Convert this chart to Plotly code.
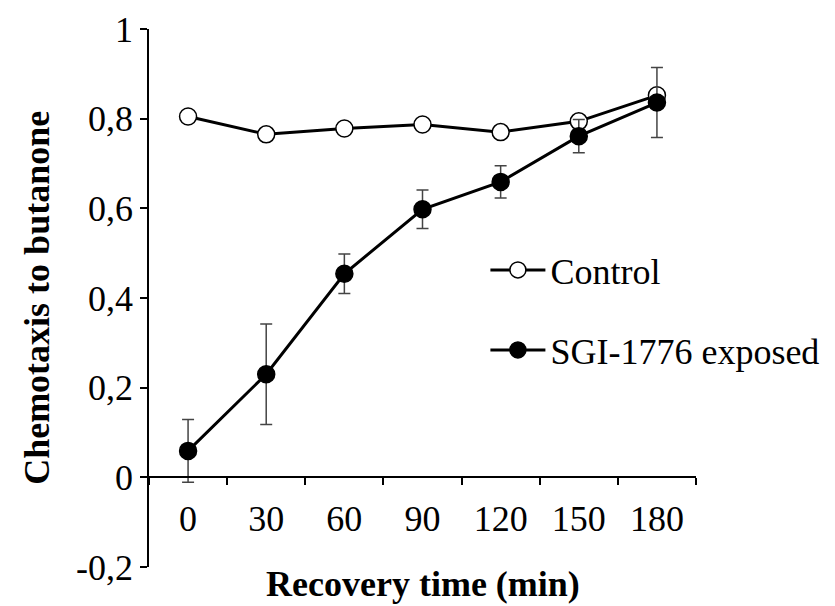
import plotly.graph_objects as go

times = ["0", "30", "60", "90", "120", "150", "180"]
control = [0.805, 0.765, 0.778, 0.787, 0.770, 0.794, 0.852]
sgi = [0.059, 0.230, 0.454, 0.598, 0.659, 0.761, 0.836]
sgi_err = [0.070, 0.112, 0.044, 0.043, 0.036, 0.037, 0.078]
ytickvals = [-0.2, 0, 0.2, 0.4, 0.6, 0.8, 1.0]
yticktext = ["-0,2", "0", "0,2", "0,4", "0,6", "0,8", "1"]

FONT = "Liberation Serif, Times New Roman, serif"
FS = 36

fig = go.Figure()
fig.add_trace(go.Scatter(
    x=times, y=control, name="Control", mode="lines+markers",
    line=dict(color="black", width=3),
    marker=dict(symbol="circle", size=17, color="white", line=dict(color="black", width=1.5)),
    legend="legend"))
fig.add_trace(go.Scatter(
    x=times, y=sgi, name="SGI-1776 exposed", mode="lines+markers",
    line=dict(color="black", width=3),
    marker=dict(symbol="circle", size=17, color="black", line=dict(color="black", width=1.5)),
    error_y=dict(type="data", array=sgi_err, color="#444444", thickness=1.5, width=6),
    legend="legend2"))

# plot area: left 141, right 688, top 21, bottom 559
PT, PB = 21, 47
H = 606 - PT - PB

def py(pix):
    """pixel row (from top) -> paper y"""
    return (606 - PB - pix) / H

fig.update_layout(
    width=835, height=606,
    margin=dict(l=141, r=147, t=PT, b=PB, autoexpand=False),
    paper_bgcolor="white", plot_bgcolor="white",
    font=dict(family=FONT, size=FS, color="black"),
    showlegend=True,
    xaxis=dict(type="category", range=[-0.5, 6.5], anchor="free", position=1/6,
               showline=True, linecolor="black", linewidth=1.5,
               ticks="outside", ticklen=7, tickwidth=1.5, tickcolor="black",
               tickson="boundaries", showgrid=False, zeroline=False, automargin=False,
               ticklabelstandoff=10, tickfont=dict(size=FS)),
    yaxis=dict(range=[-0.2, 1.0], tickvals=ytickvals, ticktext=yticktext,
               showline=True, linecolor="black", linewidth=1.5,
               ticks="outside", ticklen=7, tickwidth=1.5, tickcolor="black",
               ticklabeloverflow="allow",
               showgrid=False, zeroline=False, automargin=False, tickfont=dict(size=FS)),
    legend=dict(x=0.615, y=py(262), xanchor="left", yanchor="middle", itemwidth=55,
                bgcolor="rgba(0,0,0,0)", font=dict(size=FS)),
    legend2=dict(x=0.615, y=py(342), xanchor="left", yanchor="middle", itemwidth=55,
                 bgcolor="rgba(0,0,0,0)", font=dict(size=FS)),
    annotations=[
        dict(text="<b>Recovery time (min)</b>", x=0.5, y=py(576), xref="paper", yref="paper",
             xanchor="center", yanchor="middle", showarrow=False, font=dict(size=FS)),
        dict(text="<b>Chemotaxis to butanone</b>", x=-0.205, y=0.5, xref="paper", yref="paper",
             xanchor="center", yanchor="middle", textangle=-90, showarrow=False, font=dict(size=FS)),
    ],
)

fig.write_html("out.html")
